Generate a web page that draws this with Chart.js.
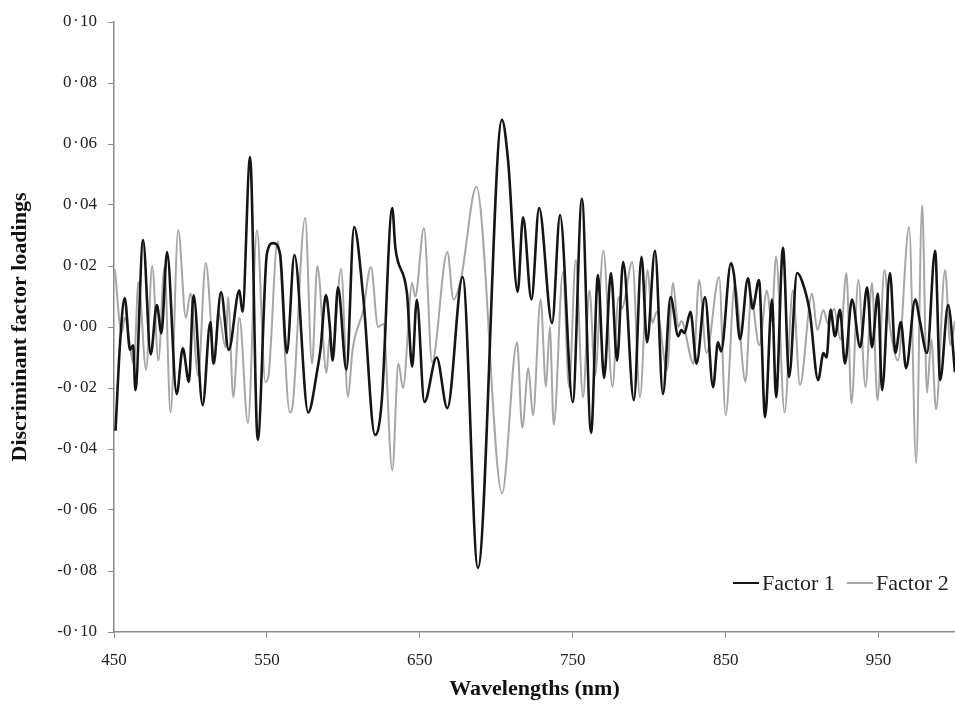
<!DOCTYPE html>
<html><head><meta charset="utf-8">
<script src="https://cdn.jsdelivr.net/npm/chart.js@4"></script>
<style>html,body{margin:0;padding:0;background:#fff;}#wrap{width:955px;height:706px;position:relative;}</style>
</head><body><div id="wrap"><canvas id="c" width="955" height="706"></canvas></div>
<script>
const seriesNames = ['Factor 1', 'Factor 2'];
const f1Wl = [451,454,457,460.5,462.5,464,469,474,478,481,484.7,491,495,499,502,508,513,515,520,525,532,534,539,544,550,554,558.6,563,568,577,583,585,588.6,591,593,596.5,602,607,613,620.7,625,632,634,641.6,645,648,653,661,668,678,688,703.7,707.7,714,717.5,723,728,736.5,741.7,750,756,762,766.5,770.5,775,779,783,790,795,798.6,803.8,809,814,819,821,823,827,831,836.5,841.8,845,847,853.5,855.5,859.4,864.6,867.6,871.8,875.8,880.3,883,887.5,891.5,896.7,900,905,910.5,914,916,918.6,921.5,924.8,928,932.6,938,942.5,945.7,949.6,952.3,957.5,961,964.6,968,974,977,981.7,987,990.3,995.5,1000];
const f1Val = [-0.034,-0.005,0.0095,-0.0075,-0.006,-0.0207,0.0285,-0.009,0.0072,-0.002,0.0246,-0.022,-0.007,-0.018,0.0105,-0.0256,0.0016,-0.012,0.0115,-0.0075,0.012,0.005,0.0557,-0.037,0.024,0.0275,0.024,-0.0085,0.0236,-0.028,-0.014,-0.0075,0.0105,0.001,-0.011,0.013,-0.014,0.0328,0.0098,-0.0354,-0.025,0.039,0.026,0.011,-0.013,0.0089,-0.0246,-0.010,-0.0266,0.0164,-0.079,0.0679,0.0547,0.0115,0.036,0.009,0.039,0.0013,0.0367,-0.0246,0.042,-0.0347,0.017,-0.0167,0.0177,-0.011,0.0213,-0.024,0.023,-0.005,0.025,-0.022,0.0098,-0.003,-0.001,-0.002,0.005,-0.012,0.0098,-0.0197,-0.005,-0.008,0.021,0.017,-0.004,0.016,0.006,0.0154,-0.0295,0.009,-0.023,0.026,-0.0164,0.0177,0.015,0.005,-0.0174,-0.0085,-0.010,0.0056,-0.003,0.0056,-0.012,0.009,-0.0066,0.013,-0.0066,0.011,-0.0207,0.0177,-0.0085,0.0016,-0.0135,0.009,0.002,-0.0085,0.025,-0.0174,0.0072,-0.0148];
const f2Wl = [450.6,455,457,463,466,471,475,479,483,487,492,497,500,505,510,516,518,523,524.6,528,532,537.6,543.5,549,551,557,565,567,575,579.5,583,589,591,593,598.5,603,606,613,618,622.7,626,632,636,639,645,647,652.7,658,668,672,677,687,703.8,713.6,717,721,724,729,732.5,735,737.6,743.6,747.6,752,756.7,761,764.6,770,776,780,782,789,794,799,802,805,811.7,815.6,819,821,829,832.6,837.5,845.7,850,856,863,866.6,872,877,880,883,888.5,894,898.6,906.5,910,914,917,921,925,929,932.3,936.8,941.5,945.7,949.3,953.8,957.5,962.7,970,974.6,978.5,981.7,984.5,987.6,993.5,997,1000];
const f2Val = [0.0187,-0.002,0.003,-0.012,0.0148,-0.014,0.020,-0.011,0.0197,-0.028,0.0318,0.003,0.011,-0.016,0.021,-0.012,0.0056,-0.0066,0.0098,-0.023,0.003,-0.0315,0.0318,-0.018,-0.016,0.028,-0.028,-0.025,0.0357,-0.012,0.020,-0.015,-0.003,-0.008,0.019,-0.023,-0.0075,0.0056,0.0197,0.0,0.001,-0.047,-0.012,-0.020,0.0144,0.010,0.0325,-0.0115,0.0246,0.009,0.016,0.046,-0.0545,-0.005,-0.033,-0.0135,-0.029,0.009,-0.0197,0.0,-0.032,0.018,-0.0197,0.022,-0.023,0.012,-0.016,0.025,-0.0197,0.0098,0.006,0.0213,-0.023,0.0187,0.0013,0.005,-0.014,0.0144,0.0,0.002,-0.012,0.0154,-0.0085,0.0164,-0.0289,0.0138,-0.018,0.0098,-0.006,0.012,0.002,0.023,-0.028,0.012,-0.019,0.011,-0.001,0.0056,0.001,0.006,-0.004,0.0177,-0.025,0.0154,-0.0197,0.0144,-0.024,0.0187,0.0,-0.011,0.0328,-0.0446,0.040,-0.0216,-0.004,-0.027,0.0187,-0.006,0.002];
const xTicks = [450,550,650,750,850,950];
const yTicks = [-0.10,-0.08,-0.06,-0.04,-0.02,0.00,0.02,0.04,0.06,0.08,0.10];
const xTitle = 'Wavelengths (nm)';
const yTitle = 'Discriminant factor loadings';

const serif = "'Liberation Serif', 'DejaVu Serif', serif";
const toPts = (xs, ys) => xs.map((x, i) => ({x: x, y: ys[i]}));

const legendPlugin = {
  id: 'inlineLegend',
  afterDraw(chart) {
    const ctx = chart.ctx;
    const ds = chart.data.datasets;
    const y = 583;
    const items = [{x0: 733, x1: 759, tx: 762}, {x0: 847, x1: 873, tx: 876}];
    ctx.save();
    ctx.font = "22px " + serif;
    ctx.textBaseline = 'middle';
    ctx.fillStyle = '#222';
    ds.forEach((d, i) => {
      const it = items[i];
      ctx.strokeStyle = d.borderColor;
      ctx.lineWidth = 2;
      ctx.beginPath(); ctx.moveTo(it.x0, y); ctx.lineTo(it.x1, y); ctx.stroke();
      ctx.fillText(d.label, it.tx, y + 1);
    });
    ctx.restore();
  }
};

new Chart(document.getElementById('c'), {
  type: 'line',
  data: {
    datasets: [
      {label: seriesNames[0], data: toPts(f1Wl, f1Val), borderColor: '#151515', borderWidth: 2.6, pointRadius: 0, cubicInterpolationMode: 'monotone', fill: false},
      {label: seriesNames[1], data: toPts(f2Wl, f2Val), borderColor: '#a6a6a6', borderWidth: 2, pointRadius: 0, cubicInterpolationMode: 'monotone', fill: false}
    ]
  },
  options: {
    responsive: false,
    animation: false,
    devicePixelRatio: 1,
    layout: {padding: {top: 22, right: 0, left: 0, bottom: 0}},
    plugins: {legend: {display: false}, tooltip: {enabled: false}},
    scales: {
      x: {
        type: 'linear', min: 450, max: 1000,
        afterBuildTicks: s => { s.ticks = xTicks.map(v => ({value: v})); },
        afterFit: s => { s.height = 74; },
        ticks: {color: '#222', font: {family: serif, size: 17}, padding: 12, maxRotation: 0, callback: v => String(v)},
        grid: {drawOnChartArea: false, drawTicks: true, tickLength: 6, color: '#8a8a8a'},
        border: {display: true, color: '#8a8a8a', width: 1.5},
        title: {display: true, text: xTitle, color: '#111', font: {family: serif, size: 22, weight: 'bold'}, padding: {top: 0, bottom: 3}}
      },
      y: {
        type: 'linear', min: -0.1, max: 0.1,
        afterBuildTicks: s => { s.ticks = yTicks.map(v => ({value: v})); },
        afterFit: s => { s.width = 114; },
        ticks: {color: '#222', font: {family: serif, size: 17}, padding: 11, callback: v => (v < -1e-9 ? '-' : '') + Math.abs(v).toFixed(2).replace('.', '\u200A·\u200A')},
        grid: {drawOnChartArea: false, drawTicks: true, tickLength: 6, color: '#8a8a8a'},
        border: {display: true, color: '#8a8a8a', width: 1.5},
        title: {display: true, text: yTitle, color: '#111', font: {family: serif, size: 22, weight: 'bold'}, padding: {top: 7, bottom: 0}}
      }
    }
  },
  plugins: [legendPlugin]
});
</script></body></html>
